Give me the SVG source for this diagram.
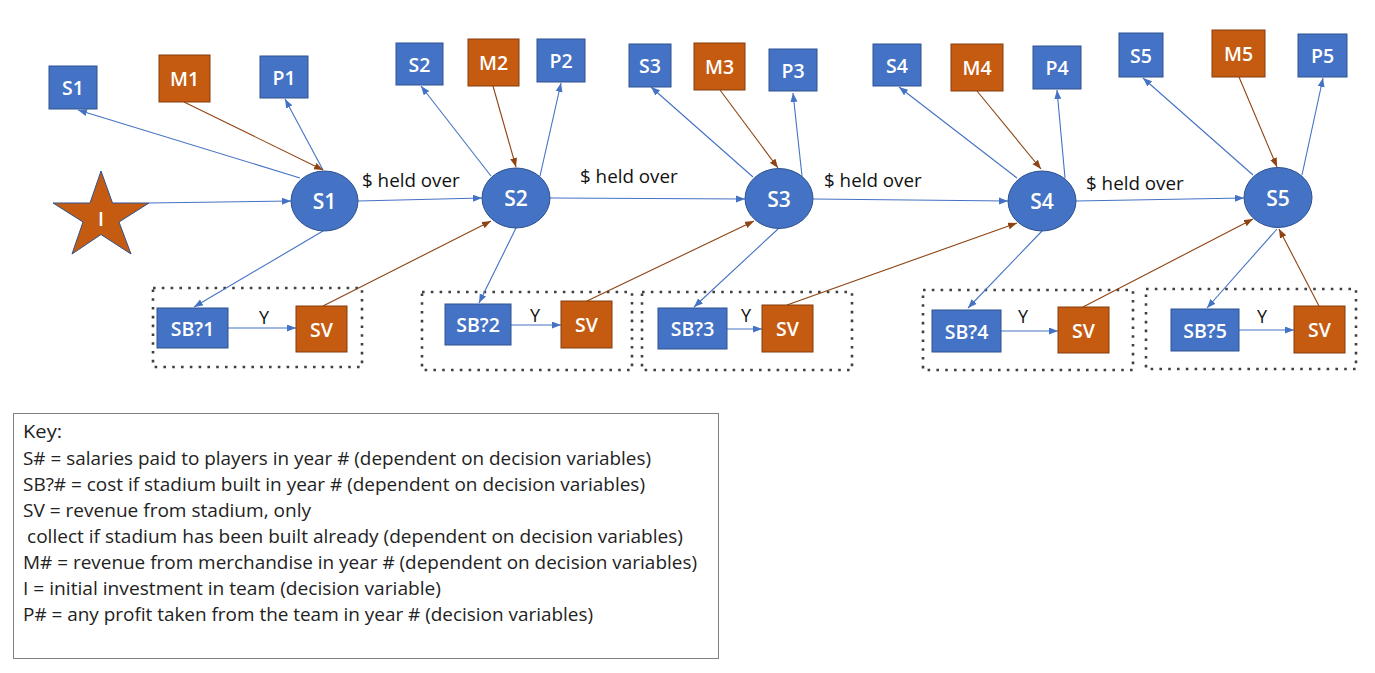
<svg xmlns="http://www.w3.org/2000/svg" width="1375" height="673" viewBox="0 0 1375 673">
<defs>
<style>
.b{fill:#4472C4;stroke:#2F528F;stroke-width:1}
.o{fill:#C55A11;stroke:#2F528F;stroke-width:1}
.ob{fill:#C55A11;stroke:#843C0C;stroke-width:1}
.nl{font-family:"Open Sans","Noto Sans",sans-serif;font-size:19.5px;font-weight:600;fill:#fff;text-anchor:middle;dominant-baseline:central}
.el{font-size:21px}
.lb{font-family:"Open Sans","Noto Sans",sans-serif;font-size:18.8px;fill:#111}
.ylab{font-family:"Open Sans","Noto Sans",sans-serif;font-size:18px;fill:#111;text-anchor:middle}
.key{font-family:"Open Sans","Noto Sans",sans-serif;font-size:18.5px;fill:#222}
.cb{stroke:#4472C4;stroke-width:1.1;fill:none;marker-end:url(#ab)}
.cr{stroke:#8F4312;stroke-width:1.1;fill:none;marker-end:url(#ar)}
.dot{fill:none;stroke:#404040;stroke-width:2.6;stroke-dasharray:2.6 6.2}
</style>
<marker id="ab" markerUnits="userSpaceOnUse" markerWidth="10" markerHeight="8" refX="9" refY="3.5" orient="auto"><path d="M0,0 L9,3.5 L0,7 z" fill="#4472C4"/></marker>
<marker id="ar" markerUnits="userSpaceOnUse" markerWidth="10" markerHeight="8" refX="9" refY="3.5" orient="auto"><path d="M0,0 L9,3.5 L0,7 z" fill="#8F4312"/></marker>
</defs>
<rect width="1375" height="673" fill="#fff"/>

<g id="groups">
<rect class="dot" x="153" y="288" width="209" height="79"/>
<rect class="dot" x="422" y="292" width="210" height="78"/>
<rect class="dot" x="642" y="292" width="210" height="78"/>
<rect class="dot" x="923" y="290" width="210" height="80"/>
<rect class="dot" x="1146" y="289" width="210" height="80"/>
</g>

<g id="connectors">
<line class="cb" x1="300" y1="178" x2="78" y2="110"/>
<line class="cb" x1="323" y1="170" x2="285" y2="99"/>
<line class="cb" x1="149" y1="203" x2="291" y2="201"/>
<line class="cb" x1="358" y1="201" x2="482" y2="198"/>
<line class="cb" x1="323" y1="231" x2="194" y2="307"/>
<line class="cb" x1="228" y1="328" x2="296" y2="328"/>
<line class="cb" x1="491" y1="176" x2="421" y2="86"/>
<line class="cb" x1="540" y1="176" x2="561" y2="83"/>
<line class="cb" x1="550" y1="198" x2="745" y2="199"/>
<line class="cb" x1="516" y1="228" x2="479" y2="303"/>
<line class="cb" x1="511" y1="325" x2="561" y2="325"/>
<line class="cb" x1="753" y1="177" x2="651" y2="87"/>
<line class="cb" x1="802" y1="176" x2="793" y2="93"/>
<line class="cb" x1="813" y1="199" x2="1008" y2="201"/>
<line class="cb" x1="778" y1="229" x2="694" y2="307"/>
<line class="cb" x1="727" y1="329" x2="762" y2="329"/>
<line class="cb" x1="1017" y1="178" x2="899" y2="87"/>
<line class="cb" x1="1065" y1="178" x2="1057" y2="90"/>
<line class="cb" x1="1076" y1="201" x2="1244" y2="198"/>
<line class="cb" x1="1042" y1="231" x2="968" y2="308"/>
<line class="cb" x1="1001" y1="331" x2="1058" y2="331"/>
<line class="cb" x1="1253" y1="175" x2="1143" y2="78"/>
<line class="cb" x1="1302" y1="175" x2="1323" y2="78"/>
<line class="cb" x1="1277" y1="229" x2="1207" y2="308"/>
<line class="cb" x1="1239" y1="330" x2="1294" y2="330"/>
<line class="cr" x1="184" y1="102" x2="323" y2="170"/>
<line class="cr" x1="323" y1="306" x2="491" y2="221"/>
<line class="cr" x1="493" y1="86" x2="516" y2="167"/>
<line class="cr" x1="587" y1="301" x2="754" y2="221"/>
<line class="cr" x1="720" y1="90" x2="778" y2="168"/>
<line class="cr" x1="787" y1="305" x2="1017" y2="223"/>
<line class="cr" x1="977" y1="91" x2="1041" y2="169"/>
<line class="cr" x1="1083" y1="307" x2="1253" y2="219"/>
<line class="cr" x1="1239" y1="77" x2="1277" y2="167"/>
<line class="cr" x1="1319" y1="306" x2="1279" y2="229"/>
</g>

<g id="edge-labels">
<text class="lb" x="362" y="187">$ held over</text>
<text class="lb" x="580" y="183">$ held over</text>
<text class="lb" x="824" y="187">$ held over</text>
<text class="lb" x="1086" y="190">$ held over</text>
<text class="ylab" x="264" y="324">Y</text>
<text class="ylab" x="535" y="322">Y</text>
<text class="ylab" x="746" y="322">Y</text>
<text class="ylab" x="1023" y="323">Y</text>
<text class="ylab" x="1262" y="323">Y</text>
</g>

<g id="I"><polygon class="o" points="101,171 112.5,203 149,203 119,222 131,254 101,234.5 72,254 83,222 53,203 90,203"/><text class="nl" x="101" y="218">I</text></g>

<g id="S1-ellipse"><ellipse class="b" cx="324.5" cy="201" rx="33.5" ry="30"/><text class="nl el" x="324.5" y="201">S1</text></g>
<g id="S2-ellipse"><ellipse class="b" cx="516" cy="198" rx="34" ry="30"/><text class="nl el" x="516" y="198">S2</text></g>
<g id="S3-ellipse"><ellipse class="b" cx="779" cy="198.5" rx="34" ry="30"/><text class="nl el" x="779" y="198.5">S3</text></g>
<g id="S4-ellipse"><ellipse class="b" cx="1042" cy="201" rx="34" ry="30"/><text class="nl el" x="1042" y="201">S4</text></g>
<g id="S5-ellipse"><ellipse class="b" cx="1278" cy="197.5" rx="34" ry="30"/><text class="nl el" x="1278" y="197.5">S5</text></g>

<g id="S1-box"><rect class="b" x="49" y="66" width="48" height="43"/><text class="nl" x="73" y="87.5">S1</text></g>
<g id="M1"><rect class="ob" x="159" y="55" width="51" height="47"/><text class="nl" x="184.5" y="78.5">M1</text></g>
<g id="P1"><rect class="b" x="260" y="56" width="48" height="42"/><text class="nl" x="284" y="77">P1</text></g>
<g id="S2-box"><rect class="b" x="396" y="43" width="47" height="42"/><text class="nl" x="419.5" y="64">S2</text></g>
<g id="M2"><rect class="ob" x="468" y="39" width="51" height="47"/><text class="nl" x="493.5" y="62.5">M2</text></g>
<g id="P2"><rect class="b" x="537" y="39" width="48" height="43"/><text class="nl" x="561" y="60.5">P2</text></g>
<g id="S3-box"><rect class="b" x="629" y="44" width="42" height="43"/><text class="nl" x="650" y="65.5">S3</text></g>
<g id="M3"><rect class="ob" x="694" y="43" width="51" height="47"/><text class="nl" x="719.5" y="66.5">M3</text></g>
<g id="P3"><rect class="b" x="769" y="49" width="48" height="42"/><text class="nl" x="793" y="70">P3</text></g>
<g id="S4-box"><rect class="b" x="873" y="44" width="48" height="42"/><text class="nl" x="897" y="65">S4</text></g>
<g id="M4"><rect class="ob" x="951" y="44" width="52" height="47"/><text class="nl" x="977" y="67.5">M4</text></g>
<g id="P4"><rect class="b" x="1033" y="46" width="48" height="43"/><text class="nl" x="1057" y="67.5">P4</text></g>
<g id="S5-box"><rect class="b" x="1119" y="33" width="44" height="44"/><text class="nl" x="1141" y="55">S5</text></g>
<g id="M5"><rect class="ob" x="1212" y="30" width="53" height="47"/><text class="nl" x="1238.5" y="53.5">M5</text></g>
<g id="P5"><rect class="b" x="1298" y="34" width="49" height="43"/><text class="nl" x="1322.5" y="55.5">P5</text></g>

<g id="SB1"><rect class="b" x="157" y="308" width="71" height="40"/><text class="nl" x="192.5" y="328">SB?1</text></g>
<g id="SV1"><rect class="ob" x="296" y="306" width="51" height="46"/><text class="nl" x="321.5" y="329">SV</text></g>
<g id="SB2"><rect class="b" x="445" y="304" width="66" height="41"/><text class="nl" x="478" y="324.5">SB?2</text></g>
<g id="SV2"><rect class="ob" x="561" y="301" width="51" height="47"/><text class="nl" x="586.5" y="324.5">SV</text></g>
<g id="SB3"><rect class="b" x="658" y="308" width="69" height="41"/><text class="nl" x="692.5" y="328.5">SB?3</text></g>
<g id="SV3"><rect class="ob" x="762" y="305" width="51" height="47"/><text class="nl" x="787.5" y="328.5">SV</text></g>
<g id="SB4"><rect class="b" x="932" y="310" width="69" height="42"/><text class="nl" x="966.5" y="331">SB?4</text></g>
<g id="SV4"><rect class="ob" x="1058" y="307" width="51" height="46"/><text class="nl" x="1083.5" y="330">SV</text></g>
<g id="SB5"><rect class="b" x="1171" y="309" width="68" height="42"/><text class="nl" x="1205" y="330">SB?5</text></g>
<g id="SV5"><rect class="ob" x="1294" y="306" width="51" height="47"/><text class="nl" x="1319.5" y="329.5">SV</text></g>

<g id="key">
<rect x="13.5" y="413.5" width="705" height="245" fill="#fff" stroke="#7F7F7F" stroke-width="1"/>
<text class="key" x="23" y="438" textLength="39" lengthAdjust="spacingAndGlyphs">Key:</text>
<text class="key" x="23" y="465" textLength="628" lengthAdjust="spacingAndGlyphs">S# = salaries paid to players in year # (dependent on decision variables)</text>
<text class="key" x="23" y="491" textLength="622" lengthAdjust="spacingAndGlyphs">SB?# = cost if stadium built in year # (dependent on decision variables)</text>
<text class="key" x="23" y="517" textLength="288" lengthAdjust="spacingAndGlyphs">SV = revenue from stadium, only</text>
<text class="key" x="27" y="543" textLength="656" lengthAdjust="spacingAndGlyphs">collect if stadium has been built already (dependent on decision variables)</text>
<text class="key" x="23" y="569" textLength="674" lengthAdjust="spacingAndGlyphs">M# = revenue from merchandise in year # (dependent on decision variables)</text>
<text class="key" x="23" y="595" textLength="418" lengthAdjust="spacingAndGlyphs">I = initial investment in team (decision variable)</text>
<text class="key" x="23" y="621" textLength="570" lengthAdjust="spacingAndGlyphs">P# = any profit taken from the team in year # (decision variables)</text>
</g>
</svg>
